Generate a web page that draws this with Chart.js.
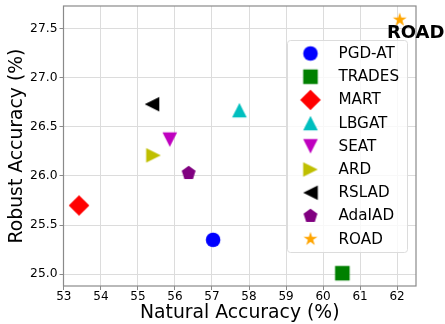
<!DOCTYPE html>
<html lang="en">
<head>
  <meta charset="UTF-8">
  <title>Natural vs Robust Accuracy</title>
  <script src="https://cdn.jsdelivr.net/npm/chart.js"></script>
  <style>
    html, body { margin: 0; padding: 0; background: #fff; }
    #wrap { width: 445px; height: 324px; }
  </style>
</head>
<body>
  <div id="wrap"><canvas id="scatter"></canvas></div>

  <script>
    // data
    const methods = ['PGD-AT', 'TRADES', 'MART', 'LBGAT', 'SEAT', 'ARD', 'RSLAD', 'AdaIAD', 'ROAD'];
    const naturalAcc = [57.03, 60.52, 53.41, 57.74, 55.86, 55.42, 55.38, 56.37, 62.07];
    const robustAcc  = [25.35, 25.01, 25.70, 26.67, 26.37, 26.21, 26.73, 26.03, 27.59];
    const xTicks = [53, 54, 55, 56, 57, 58, 59, 60, 61, 62];
    const yTicks = [25.0, 25.5, 26.0, 26.5, 27.0, 27.5];
    const highlight = 'ROAD';

    // marker look (matplotlib style)
    const markerShapes = ['circle', 'square', 'diamond', 'triUp', 'triDown', 'triRight', 'triLeft', 'pentagon', 'star'];
    const markerColors = ['#0000ff', '#008000', '#ff0000', '#00bfbf', '#bf00bf', '#bfbf00', '#000000', '#800080', '#ffa500'];
    const MS = 14.6;
    const FONT = 'DejaVu Sans';

    function makeMarker(shape, color, s) {
      const n = Math.ceil(s * 1.5) + 2;
      const c = document.createElement('canvas');
      c.width = n; c.height = n;
      const g = c.getContext('2d');
      g.translate(n / 2, n / 2);
      g.scale(s, -s);
      g.fillStyle = color;
      g.beginPath();
      const poly = pts => {
        pts.forEach((p, i) => i ? g.lineTo(p[0], p[1]) : g.moveTo(p[0], p[1]));
        g.closePath();
      };
      const ring = (k, r0, r1) => {
        const pts = [];
        for (let i = 0; i < k; i++) {
          const a = Math.PI / 2 + i * 2 * Math.PI / k;
          const r = (i % 2 && r1) ? r1 : r0;
          pts.push([Math.cos(a) * r, Math.sin(a) * r]);
        }
        poly(pts);
      };
      switch (shape) {
        case 'circle': g.arc(0, 0, 0.5, 0, 2 * Math.PI); break;
        case 'square': poly([[-.5, -.5], [.5, -.5], [.5, .5], [-.5, .5]]); break;
        case 'diamond': poly([[0, .707], [.707, 0], [0, -.707], [-.707, 0]]); break;
        case 'triUp': poly([[0, .5], [-.5, -.5], [.5, -.5]]); break;
        case 'triDown': poly([[0, -.5], [-.5, .5], [.5, .5]]); break;
        case 'triRight': poly([[.5, 0], [-.5, .5], [-.5, -.5]]); break;
        case 'triLeft': poly([[-.5, 0], [.5, .5], [.5, -.5]]); break;
        case 'pentagon': ring(5, .5); break;
        case 'star': ring(10, .5, .5 * 0.381966); break;
      }
      g.fill();
      return c;
    }

    const markers = methods.map((m, i) => makeMarker(markerShapes[i], markerColors[i], MS));

    const datasets = methods.map((m, i) => ({
      label: m,
      data: [{ x: naturalAcc[i], y: robustAcc[i] }],
      pointStyle: markers[i],
      pointRadius: 8,
      pointHoverRadius: 8,
      backgroundColor: markerColors[i],
      borderColor: markerColors[i],
    }));

    // frame (all four spines)
    const frame = {
      id: 'frame',
      afterDatasetsDraw(chart) {
        const { ctx, chartArea: a } = chart;
        ctx.save();
        ctx.strokeStyle = '#8a8a8a';
        ctx.lineWidth = 1.2;
        ctx.strokeRect(a.left, a.top, a.right - a.left, a.bottom - a.top);
        ctx.restore();
      }
    };

    // bold label next to the highlighted point
    const pointLabel = {
      id: 'pointLabel',
      afterDraw(chart) {
        const i = methods.indexOf(highlight);
        const px = chart.scales.x.getPixelForValue(naturalAcc[i]);
        const py = chart.scales.y.getPixelForValue(robustAcc[i]);
        const ctx = chart.ctx;
        ctx.save();
        ctx.font = `bold 18px "${FONT}"`;
        ctx.fillStyle = '#000';
        ctx.textAlign = 'center';
        ctx.textBaseline = 'alphabetic';
        ctx.fillText(highlight, px + 16, py + 18.6);
        ctx.restore();
      }
    };

    // legend box inside the plot, like matplotlib's
    const innerLegend = {
      id: 'innerLegend',
      afterDraw(chart) {
        const { ctx, chartArea: a } = chart;
        const w = 120, h = 212, r = 3;
        const x0 = a.right - 128.5, y0 = a.top + 34.5;
        ctx.save();
        ctx.beginPath();
        ctx.moveTo(x0 + r, y0);
        ctx.lineTo(x0 + w - r, y0);
        ctx.arcTo(x0 + w, y0, x0 + w, y0 + r, r);
        ctx.lineTo(x0 + w, y0 + h - r);
        ctx.arcTo(x0 + w, y0 + h, x0 + w - r, y0 + h, r);
        ctx.lineTo(x0 + r, y0 + h);
        ctx.arcTo(x0, y0 + h, x0, y0 + h - r, r);
        ctx.lineTo(x0, y0 + r);
        ctx.arcTo(x0, y0, x0 + r, y0, r);
        ctx.closePath();
        ctx.fillStyle = 'rgba(255,255,255,0.8)';
        ctx.fill();
        ctx.strokeStyle = '#dcdcdc';
        ctx.lineWidth = 1;
        ctx.stroke();

        ctx.font = `15.2px "${FONT}"`;
        ctx.fillStyle = '#000';
        ctx.textAlign = 'left';
        ctx.textBaseline = 'middle';
        methods.forEach((m, i) => {
          const cy = y0 + 13 + i * 23.2;
          const mk = markers[i];
          ctx.drawImage(mk, x0 + 23 - mk.width / 2, cy - mk.height / 2);
          ctx.fillText(m, x0 + 51, cy + 0.5);
        });
        ctx.restore();
      }
    };

    new Chart(document.getElementById('scatter'), {
      type: 'scatter',
      data: { datasets },
      options: {
        responsive: true,
        maintainAspectRatio: false,
        animation: false,
        layout: { autoPadding: false, padding: { top: 6, right: 29, left: 0, bottom: 0 } },
        plugins: {
          legend: { display: false },
          tooltip: { enabled: false }
        },
        scales: {
          x: {
            type: 'linear',
            min: 52.99,
            max: 62.51,
            afterBuildTicks: s => { s.ticks = xTicks.map(v => ({ value: v })); },
            afterFit: s => { s.height = 38; s.paddingLeft = 0; s.paddingRight = 0; },
            ticks: {
              font: { family: FONT, size: 12 },
              color: '#000',
              padding: 0,
              callback: v => String(v)
            },
            grid: { color: '#dcdcdc', tickColor: '#8a8a8a', tickLength: 4 },
            border: { display: false },
            title: {
              display: true,
              text: 'Natural Accuracy (%)',
              font: { family: FONT, size: 18.8 },
              color: '#000',
              padding: { top: 0, bottom: 0 }
            }
          },
          y: {
            type: 'linear',
            min: 24.88,
            max: 27.73,
            afterBuildTicks: s => { s.ticks = yTicks.map(v => ({ value: v })); },
            afterFit: s => { s.width = 63.5; s.paddingTop = 0; s.paddingBottom = 0; },
            ticks: {
              font: { family: FONT, size: 12.3 },
              color: '#000',
              padding: 2,
              callback: v => Number(v).toFixed(1)
            },
            grid: { color: '#dcdcdc', tickColor: '#8a8a8a', tickLength: 4 },
            border: { display: false },
            title: {
              display: true,
              text: 'Robust Accuracy (%)',
              font: { family: FONT, size: 18.8 },
              color: '#000',
              padding: { top: 5.4, bottom: 0 }
            }
          }
        }
      },
      plugins: [frame, pointLabel, innerLegend]
    });
  </script>
</body>
</html>
